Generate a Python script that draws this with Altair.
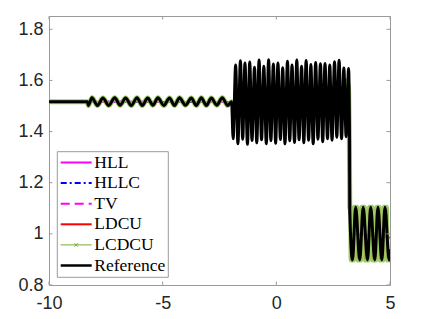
import altair as alt
import pandas as pd

# ---------------- data ----------------
# common left part (constant state + small entropy-wave oscillation)
LEFT_X = [-10.0, -8.31, -8.27, -8.11, -7.87, -7.63, -7.37, -7.11, -6.87, -6.63,
          -6.38, -6.13, -5.90, -5.66, -5.43, -5.21, -4.95, -4.70, -4.48, -4.26,
          -4.00, -3.74, -3.52, -3.30, -3.08, -2.86, -2.62, -2.38, -2.14, -1.97]
LEFT_Y = [1.517, 1.517, 1.502, 1.532, 1.502, 1.531, 1.502, 1.532, 1.503, 1.531,
          1.502, 1.532, 1.502, 1.531, 1.503, 1.532, 1.502, 1.531, 1.502, 1.532,
          1.503, 1.531, 1.502, 1.532, 1.502, 1.531, 1.503, 1.532, 1.502, 1.517]

# Reference: high-frequency region, shock, post-shock oscillations
REF_X = [-1.90, -1.79, -1.69, -1.58, -1.48, -1.38, -1.27, -1.17, -1.07, -0.96,
         -0.86, -0.76, -0.65, -0.55, -0.44, -0.34, -0.24, -0.13, -0.03, 0.07,
         0.18, 0.28, 0.38, 0.49, 0.59, 0.69, 0.80, 0.90, 1.00, 1.11,
         1.21, 1.31, 1.42, 1.52, 1.62, 1.73, 1.83, 1.94, 2.04, 2.14,
         2.25, 2.35, 2.45, 2.56, 2.66, 2.76, 2.87, 2.97, 3.07, 3.18,
         3.22, 3.23, 3.35, 3.49, 3.67, 3.82, 4.01, 4.15, 4.33, 4.47,
         4.64, 4.78, 4.96, 5.00]
REF_Y = [1.372, 1.660, 1.352, 1.677, 1.370, 1.668, 1.350, 1.672, 1.365, 1.652,
         1.356, 1.680, 1.368, 1.655, 1.352, 1.681, 1.364, 1.664, 1.354, 1.668,
         1.369, 1.650, 1.352, 1.675, 1.364, 1.660, 1.357, 1.680, 1.368, 1.655,
         1.356, 1.678, 1.366, 1.662, 1.352, 1.670, 1.370, 1.665, 1.360, 1.666,
         1.372, 1.660, 1.366, 1.673, 1.378, 1.679, 1.372, 1.649, 1.380, 1.647,
         1.372, 1.093, 0.898, 1.104, 0.898, 1.104, 0.898, 1.104, 0.898, 1.104,
         0.898, 1.104, 0.898, 0.940]

# LCDCU
LCDCU_X = [-1.85, -1.60, -1.30, -1.00, -0.70, -0.40, -0.10, 0.20, 0.50, 0.80,
           1.10, 1.40, 1.70, 2.00, 2.20, 2.40, 2.55, 2.70, 2.82, 2.92,
           3.00, 3.06, 3.12, 3.17, 3.20, 3.21, 3.215, 3.22, 3.225, 3.23,
           3.27, 3.29, 3.40, 3.43, 3.55, 3.58, 3.72, 3.75, 3.88, 3.91,
           4.06, 4.09, 4.21, 4.24, 4.38, 4.41, 4.53, 4.56, 4.70, 4.73,
           4.85, 4.88, 4.98, 5.00]
LCDCU_Y = [1.510, 1.522, 1.508, 1.522, 1.510, 1.523, 1.508, 1.521, 1.509, 1.524,
           1.508, 1.524, 1.506, 1.527, 1.500, 1.535, 1.490, 1.545, 1.475, 1.565,
           1.455, 1.600, 1.430, 1.585, 1.450, 1.380, 1.320, 1.250, 1.180, 1.100,
           1.100, 0.898, 0.898, 1.104, 1.104, 0.898, 0.898, 1.104, 1.104, 0.898,
           0.898, 1.104, 1.104, 0.898, 0.898, 1.104, 1.104, 0.898, 0.898, 1.104,
           1.104, 0.898, 0.898, 0.930]

# LDCU
LDCU_X = [-1.80, -1.20, -0.60, 0.00, 0.60, 1.20, 1.80, 2.40, 2.80, 3.00,
          3.17, 3.27, 3.29, 3.40, 3.43, 3.55, 3.58, 3.72, 3.75, 3.88,
          3.91, 4.06, 4.09, 4.21, 4.24, 4.38, 4.41, 4.53, 4.56, 4.70,
          4.73, 4.85, 4.88, 5.00]
LDCU_Y = [1.512, 1.520, 1.511, 1.521, 1.511, 1.521, 1.510, 1.525, 1.505, 1.530,
          1.500, 1.100, 0.905, 0.905, 1.095, 1.095, 0.905, 0.905, 1.095, 1.095,
          0.905, 0.905, 1.095, 1.095, 0.905, 0.905, 1.095, 1.095, 0.905, 0.905,
          1.095, 1.095, 0.905, 0.930]

# HLL, HLLC, TV (smeared solutions)
HLL_X = [-10.0, -8.30, -5.0, -2.0, 0.0, 2.0, 3.12, 3.25, 3.40, 4.00, 4.60, 5.00]
HLL_Y = [1.517, 1.517, 1.516, 1.516, 1.515, 1.515, 1.514, 1.000, 0.999, 0.996, 0.990, 0.985]
HLLC_X = [-10.0, -8.30, -5.0, -2.0, 0.0, 2.0, 3.13, 3.25, 3.40, 4.00, 4.60, 5.00]
HLLC_Y = [1.517, 1.517, 1.516, 1.516, 1.515, 1.515, 1.514, 1.000, 0.999, 0.996, 0.990, 0.986]
TV_X = [-10.0, -8.30, -5.0, -2.0, 0.0, 2.0, 3.14, 3.25, 3.40, 4.00, 4.60, 5.00]
TV_Y = [1.517, 1.517, 1.516, 1.516, 1.515, 1.515, 1.514, 1.000, 0.998, 0.995, 0.990, 0.985]

XTICKS = [-10, -5, 0, 5]
YTICKS = [0.8, 1, 1.2, 1.4, 1.6, 1.8]
LEG_NAMES = ["HLL", "HLLC", "TV", "LDCU", "LCDCU", "Reference"]

# ---------------- chart ----------------
W, H = 341, 269
FRAME = "#9a9a9a"
GREEN = "#77AC30"
GREEN_BAND = "#8cc24a"

xs = alt.Scale(domain=[-10, 5], nice=False, zero=False)
ys = alt.Scale(domain=[0.8, 1.852], nice=False, zero=False)

xaxis = alt.Axis(values=XTICKS, labelExpr="'' + datum.value", ticks=False, tickSize=0,
                 domain=False, grid=False, labelFont="Liberation Sans", labelFontSize=18,
                 labelColor="#262626", labelPadding=9, labelFlush=False, title=None)
yaxis = alt.Axis(values=YTICKS, labelExpr="'' + datum.value", ticks=False, tickSize=0,
                 domain=False, grid=False, labelFont="Liberation Sans", labelFontSize=18,
                 labelColor="#262626", labelPadding=6, labelFlush=False, title=None)


def enc_x(f):
    return alt.X(f, scale=xs, axis=xaxis)


def enc_y(f):
    return alt.Y(f, scale=ys, axis=yaxis)


def line(xv, yv, interp="linear", **kw):
    df = pd.DataFrame({"x": xv, "y": yv})
    return alt.Chart(df).mark_line(clip=True, interpolate=interp, **kw).encode(
        x=enc_x("x:Q"), y=enc_y("y:Q"))


layers = [
    line(HLL_X, HLL_Y, color="#FF00FF", strokeWidth=2),
    line(HLLC_X, HLLC_Y, color="#0000FF", strokeWidth=2, strokeDash=[6, 3, 2, 3]),
    line(TV_X, TV_Y, color="#FF00FF", strokeWidth=2, strokeDash=[8, 5]),
    line(LEFT_X + LDCU_X, LEFT_Y + LDCU_Y, color="#FF0000", strokeWidth=2),
    line(LEFT_X + LCDCU_X, LEFT_Y + LCDCU_Y, interp="monotone", color=GREEN_BAND,
         strokeWidth=5, opacity=0.85),
    line(LEFT_X + REF_X, LEFT_Y + REF_Y, interp="monotone", color="black", strokeWidth=3),
]

# inward ticks (box style)
ydf = pd.DataFrame({"v": YTICKS})
xdf = pd.DataFrame({"v": XTICKS})
TL = 3.5
layers += [
    alt.Chart(ydf).mark_rule(color=FRAME, strokeWidth=1).encode(
        y=enc_y("v:Q"), x=alt.value(0), x2=alt.value(TL)),
    alt.Chart(ydf).mark_rule(color=FRAME, strokeWidth=1).encode(
        y=enc_y("v:Q"), x=alt.value(W - TL), x2=alt.value(W)),
    alt.Chart(xdf).mark_rule(color=FRAME, strokeWidth=1).encode(
        x=enc_x("v:Q"), y=alt.value(H - TL), y2=alt.value(H)),
    alt.Chart(xdf).mark_rule(color=FRAME, strokeWidth=1).encode(
        x=enc_x("v:Q"), y=alt.value(0), y2=alt.value(TL)),
]

# legend (drawn manually, MATLAB style)
LX0, LX1, LY0, LY1 = 8.3, 119.3, 135.7, 261.3
layers.append(
    alt.Chart(pd.DataFrame({"k": [0]})).mark_rect(fill="white", stroke=FRAME, strokeWidth=1).encode(
        x=alt.value(LX0), x2=alt.value(LX1), y=alt.value(LY0), y2=alt.value(LY1)))

styles = [
    dict(color="#FF00FF", strokeWidth=2),
    dict(color="#0000FF", strokeWidth=2, strokeDash=[6, 3, 2, 3]),
    dict(color="#FF00FF", strokeWidth=2, strokeDash=[9, 5]),
    dict(color="#FF0000", strokeWidth=2),
    dict(color=GREEN, strokeWidth=1),
    dict(color="black", strokeWidth=2.5),
]
for i, name in enumerate(LEG_NAMES):
    yy = 146.5 + 20.6 * i
    d = pd.DataFrame({"label": [name]})
    layers.append(alt.Chart(d).mark_rule(**styles[i]).encode(
        x=alt.value(11.7), x2=alt.value(42.7), y=alt.value(yy)))
    if name == "LCDCU":
        layers.append(alt.Chart(d).mark_point(
            shape="M-1,-1L1,1M-1,1L1,-1", filled=False, size=12, color=GREEN,
            strokeWidth=1, opacity=1).encode(x=alt.value(27.2), y=alt.value(yy)))
    layers.append(alt.Chart(d).mark_text(
        align="left", baseline="middle", font="Liberation Serif", fontSize=17.5,
        color="black").encode(x=alt.value(45.3), y=alt.value(yy), text="label:N"))

chart = alt.layer(*layers).properties(
    width=W, height=H,
    padding={"left": 41, "top": 8, "right": 26, "bottom": 26},
    autosize=alt.AutoSizeParams(type="none"),
).configure_view(stroke=FRAME, strokeWidth=1)

chart.save("out.html", embed_options={"renderer": "svg", "actions": False})
